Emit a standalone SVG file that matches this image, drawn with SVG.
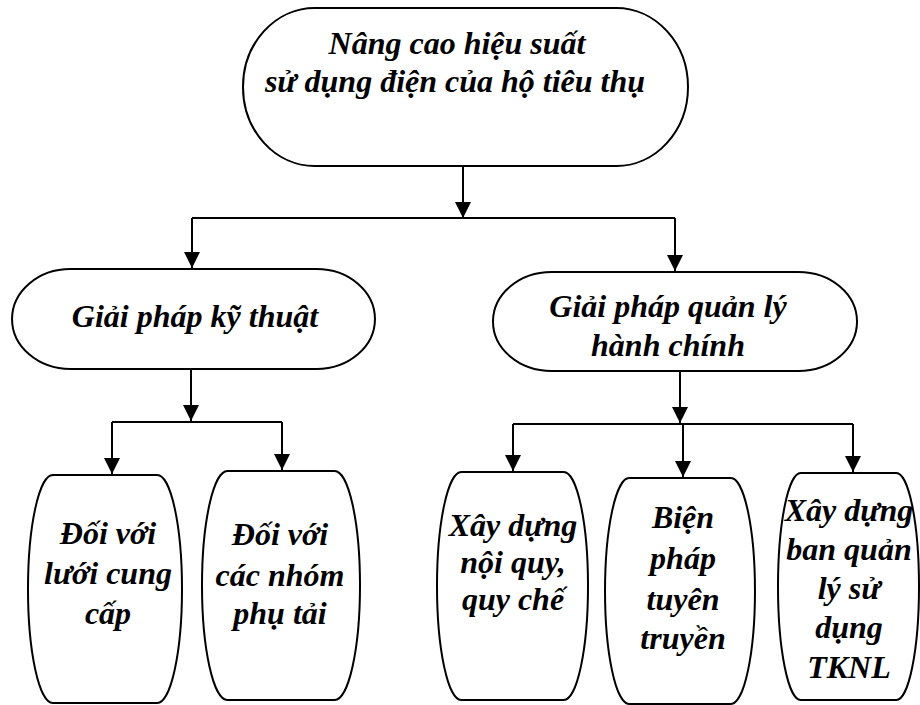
<svg xmlns="http://www.w3.org/2000/svg" width="920" height="705" viewBox="0 0 920 705">
  <style>
    .node { fill: #ffffff; stroke: #000000; stroke-width: 2; }
    .wire { fill: none; stroke: #000000; stroke-width: 2; }
  </style>
  <defs>
    <marker id="arrow" markerUnits="userSpaceOnUse" markerWidth="16" markerHeight="18" viewBox="0 0 16 18" refX="16" refY="8" orient="auto">
      <path d="M0,0 L16,8 L0,16 Z" fill="#000000"/>
    </marker>
  </defs>
  <rect width="920" height="705" fill="#ffffff"/>

  <!-- connectors -->
  <g id="connectors" class="wire">
    <path d="M463,166 V218" marker-end="url(#arrow)"/>
    <path d="M192,218 H675"/>
    <path d="M192,218 V268" marker-end="url(#arrow)"/>
    <path d="M675,218 V271" marker-end="url(#arrow)"/>
    <path d="M191,369 V421" marker-end="url(#arrow)"/>
    <path d="M112,422 H282"/>
    <path d="M112,422 V474" marker-end="url(#arrow)"/>
    <path d="M282,422 V470" marker-end="url(#arrow)"/>
    <path d="M680,371 V423" marker-end="url(#arrow)"/>
    <path d="M513,424 H853"/>
    <path d="M513,424 V471" marker-end="url(#arrow)"/>
    <path d="M683,424 V477" marker-end="url(#arrow)"/>
    <path d="M853,424 V472" marker-end="url(#arrow)"/>
  </g>

  <g font-family="Liberation Serif" font-size="32" font-weight="bold" font-style="italic" fill="#000000" text-anchor="middle">
    <!-- root goal -->
    <g id="node-goal">
      <path class="node" d="M314.6,8 H616.4 A71.6,79 0 0 1 616.4,166 H314.6 A71.6,79 0 0 1 314.6,8 Z"/>
      <text x="457" y="54">Nâng cao hiệu suất</text>
      <text x="455" y="92">sử dụng điện của hộ tiêu thụ</text>
    </g>

    <!-- technical branch -->
    <g id="node-technical">
      <path class="node" d="M70.4,269 H316.6 A58.4,50 0 0 1 316.6,369 H70.4 A58.4,50 0 0 1 70.4,269 Z"/>
      <text x="195" y="327">Giải pháp kỹ thuật</text>
    </g>

    <!-- administrative branch -->
    <g id="node-admin">
      <path class="node" d="M551.6,272 H798.4 A58.6,49.5 0 0 1 798.4,371 H551.6 A58.6,49.5 0 0 1 551.6,272 Z"/>
      <text x="668" y="317">Giải pháp quản lý</text>
      <text x="668" y="356">hành chính</text>
    </g>

    <g id="node-grid">
      <path class="node" d="M52.8,475 H157.2 A24.8,114 0 0 1 157.2,703 H52.8 A24.8,114 0 0 1 52.8,475 Z"/>
      <text x="108" y="544">Đối với</text>
      <text x="108" y="584">lưới cung</text>
      <text x="108" y="624">cấp</text>
    </g>

    <g id="node-loads">
      <path class="node" d="M227.4,471 H334.6 A25.4,114.5 0 0 1 334.6,700 H227.4 A25.4,114.5 0 0 1 227.4,471 Z"/>
      <text x="280" y="545">Đối với</text>
      <text x="280" y="586">các nhóm</text>
      <text x="280" y="624">phụ tải</text>
    </g>

    <g id="node-rules">
      <path class="node" d="M461.3,472 H563.7 A24.3,114 0 0 1 563.7,700 H461.3 A24.3,114 0 0 1 461.3,472 Z"/>
      <text x="513" y="536">Xây dựng</text>
      <text x="513" y="573">nội quy,</text>
      <text x="513" y="610">quy chế</text>
    </g>

    <g id="node-publicity">
      <path class="node" d="M629.2,478 H730.8 A24.2,113 0 0 1 730.8,704 H629.2 A24.2,113 0 0 1 629.2,478 Z"/>
      <text x="683" y="528">Biện</text>
      <text x="683" y="569">pháp</text>
      <text x="683" y="610">tuyên</text>
      <text x="683" y="649">truyền</text>
    </g>

    <g id="node-board">
      <path class="node" d="M800.7,473 H896.3 A22.7,113.5 0 0 1 896.3,700 H800.7 A22.7,113.5 0 0 1 800.7,473 Z"/>
      <text x="849" y="521">Xây dựng</text>
      <text x="849" y="560">ban quản</text>
      <text x="849" y="599">lý sử</text>
      <text x="849" y="638">dụng</text>
      <text x="849" y="678">TKNL</text>
    </g>
  </g>
</svg>
